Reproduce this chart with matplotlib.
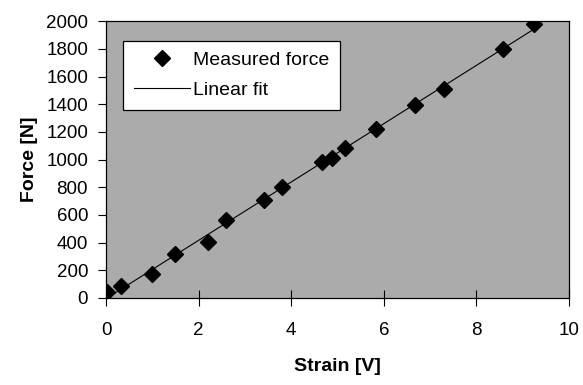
import numpy as np
import matplotlib.pyplot as plt

plt.rcParams['font.family'] = ['Liberation Sans', 'DejaVu Sans']

strain = [0.02, 0.32, 1.0, 1.49, 2.2, 2.59, 3.41, 3.80, 4.67, 4.88,
          5.16, 5.83, 6.67, 7.30, 8.57, 9.24]
force = [40, 85, 175, 315, 405, 560, 710, 805, 980, 1010,
         1085, 1220, 1395, 1510, 1800, 1980]

xticks = [0, 2, 4, 6, 8, 10]
yticks = [0, 200, 400, 600, 800, 1000, 1200, 1400, 1600, 1800, 2000]

# linearer Fit
k, d = np.polyfit(strain, force, 1)
xfit = np.array([min(strain), max(strain)])

fig = plt.figure(figsize=(5.83, 3.85), dpi=100)
ax = fig.add_axes([0.182, 0.226, 0.794, 0.719])
ax.set_facecolor('#ababab')

ax.plot(strain, force, 'D', color='black', markersize=8, label='Measured force')
ax.plot(xfit, k * xfit + d, '-', color='black', linewidth=0.8, label='Linear fit')

ax.set_xlim(0, 10)
ax.set_ylim(0, 2000)
ax.set_xticks(xticks)
ax.set_yticks(yticks)
ax.tick_params(axis='x', direction='inout', length=12, pad=11, labelsize=13.5)
ax.tick_params(axis='y', direction='out', length=6, pad=7, labelsize=13.5)
for s in ax.spines.values():
    s.set_linewidth(0.9)

ax.set_xlabel('Strain [V]', fontsize=14, fontweight='bold', labelpad=14)
ax.set_ylabel('Force [N]', fontsize=14, fontweight='bold', labelpad=6)

leg = ax.legend(loc='upper left', bbox_to_anchor=(0.037, 0.93), fontsize=14,
                handlelength=2.9, handletextpad=0.15, borderpad=0.55,
                labelspacing=0.65, fancybox=False, framealpha=1,
                edgecolor='black', borderaxespad=0)
leg.get_frame().set_linewidth(0.9)

fig.savefig('out.png', dpi=100)
